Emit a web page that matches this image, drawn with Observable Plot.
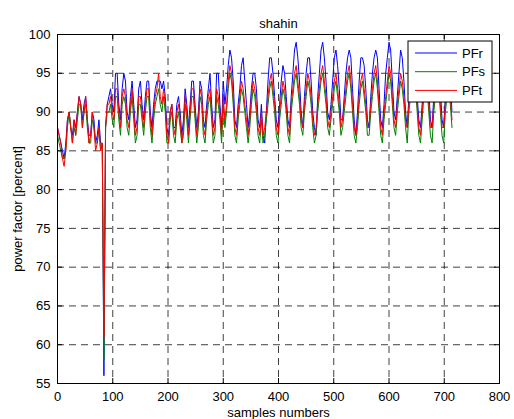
<!DOCTYPE html>
<html><head><meta charset="utf-8">
<script src="https://cdn.jsdelivr.net/npm/d3@7"></script>
<script src="https://cdn.jsdelivr.net/npm/@observablehq/plot@0.6"></script>
<style>body{margin:0;background:#fff;}</style>
</head><body><div id="chart"></div>
<script>
const sampleStep = 3;
const PFr = [
88,87,86,85,84,86,89,90,88,87,
89,88,90,92,91,89,91,92,89,87,
87,90,89,86,87,89,86,86,56,88,
91,92,93,91,90,95,95,91,89,93,
95,94,90,89,92,94,91,88,89,93,
94,91,89,92,94,94,90,88,91,93,
94,94,94,93,94,92,88,87,90,91,
88,88,91,92,90,87,89,93,91,88,
91,94,94,91,88,90,94,93,89,88,
91,93,95,91,88,89,95,95,91,88,
94,91,93,96,98,97,94,89,88,91,
93,96,97,94,91,88,90,93,95,95,
93,89,88,91,87,86,90,94,97,97,
95,92,89,88,91,94,96,95,92,89,
88,92,95,98,99,97,94,90,88,92,
95,97,97,94,90,88,87,92,95,98,
99,97,94,90,89,91,94,97,98,96,
93,89,89,92,95,97,98,97,93,89,
87,90,94,97,97,96,93,89,88,92,
95,97,98,97,93,89,88,91,95,97,
99,98,94,90,89,92,95,98,97,94,
90,88,92,95,97,98,96,92,89,88,
91,95,97,97,93,89,88,92,95,97,
97,93,89,88,92,95,97,94,90];
const PFs = [
87,86,85,84,84,85,88,90,88,86,
88,87,89,91,91,88,90,91,88,86,
86,89,88,86,86,88,85,86,58,88,
90,90,91,89,88,92,92,89,87,91,
92,91,88,87,90,92,89,86,87,91,
91,89,87,90,92,92,88,86,89,91,
92,93,91,90,92,90,86,86,89,90,
87,86,89,90,88,86,87,91,89,86,
89,92,92,89,86,88,92,91,87,86,
89,91,92,89,86,87,92,91,89,86,
91,88,90,93,95,94,91,87,86,89,
91,93,92,90,88,86,88,91,93,92,
90,87,86,89,86,87,89,91,93,94,
92,90,87,86,89,91,93,92,90,87,
86,90,92,94,95,93,91,88,87,90,
92,94,93,91,88,86,87,90,92,94,
95,93,91,88,87,89,91,93,94,92,
90,87,88,90,92,94,95,93,90,87,
86,88,91,93,94,92,90,87,87,90,
92,94,95,93,90,87,86,89,91,93,
95,94,91,88,87,90,92,94,93,91,
88,86,90,92,94,95,93,90,87,86,
89,92,94,93,90,87,86,90,92,94,
93,90,87,86,90,92,94,91,88];
const PFt = [
88,87,86,84,83,85,89,90,88,86,
89,87,90,92,91,88,90,92,89,86,
87,90,88,85,86,88,85,86,61,88,
91,91,92,90,89,93,93,90,88,92,
93,92,89,88,91,93,90,87,88,92,
92,90,88,91,93,93,89,87,90,92,
93,95,92,91,93,91,87,86,90,91,
88,87,90,91,89,86,88,92,90,87,
90,93,93,90,87,89,93,92,88,87,
90,92,93,90,87,88,93,92,90,87,
92,89,91,94,96,95,92,88,87,90,
92,94,93,91,89,87,89,92,94,93,
91,88,87,90,87,88,90,92,94,95,
93,91,88,87,90,92,94,93,91,88,
87,91,93,95,96,94,92,89,88,91,
93,95,94,92,89,87,88,91,93,95,
96,94,92,89,88,90,92,94,95,93,
91,88,89,91,93,95,96,94,91,88,
87,89,92,94,95,93,91,88,88,91,
93,95,96,94,91,88,87,90,92,94,
96,95,92,89,88,91,93,95,94,92,
89,88,91,93,95,96,94,91,88,87,
90,93,95,94,91,88,88,91,93,95,
94,91,88,88,91,93,95,92,89];
const seriesNames = ["PFr", "PFs", "PFt"];
const seriesColors = ["#0000ff", "#008000", "#ff0000"];
const xTicks = [0, 100, 200, 300, 400, 500, 600, 700, 800];
const yTicks = [55, 60, 65, 70, 75, 80, 85, 90, 95, 100];
const titleText = "shahin";
const xLabel = "samples numbers";
const yLabel = "power factor [percent]";

const W = 514, H = 419, mL = 57, mR = 15, mT = 34, mB = 36;
const innerH = H - mT - mB, innerW = W - mL - mR;

const rows = [PFr, PFs, PFt].flatMap((arr, k) =>
  arr.map((v, i) => ({sample: i * sampleStep, value: v, series: seriesNames[k]})));

const plot = Plot.plot({
  width: W, height: H,
  marginLeft: mL, marginRight: mR, marginTop: mT, marginBottom: mB,
  style: {fontFamily: "'Liberation Sans', Arial, sans-serif", fontSize: "13px", color: "#000", background: "#fff"},
  x: {domain: [0, 800]},
  y: {domain: [55, 100]},
  color: {domain: seriesNames, range: seriesColors},
  marks: [
    Plot.gridX(xTicks, {stroke: "#000", strokeOpacity: 0.75, strokeDasharray: "7,5"}),
    Plot.gridY(yTicks, {stroke: "#000", strokeOpacity: 0.75, strokeDasharray: "7,5"}),
    Plot.line(rows, {x: "sample", y: "value", z: "series", stroke: "series", strokeWidth: 1}),
    Plot.ruleX(xTicks, {x: d => d, insetTop: innerH - 5, stroke: "#000"}),
    Plot.ruleX(xTicks, {x: d => d, insetBottom: innerH - 5, stroke: "#000"}),
    Plot.ruleY(yTicks, {y: d => d, insetRight: innerW - 5, stroke: "#000"}),
    Plot.ruleY(yTicks, {y: d => d, insetLeft: innerW - 5, stroke: "#000"}),
    Plot.frame({stroke: "#000", strokeWidth: 1}),
    Plot.axisX(xTicks, {tickSize: 0, tickPadding: 8, label: xLabel, labelAnchor: "center", labelArrow: "none", labelOffset: 33}),
    Plot.axisY(yTicks, {tickSize: 0, tickPadding: 7, label: yLabel, labelAnchor: "center", labelArrow: "none", labelOffset: 45}),
    Plot.text([titleText], {text: d => d, frameAnchor: "top", dy: -16, fill: "#000"})
  ]
});
document.getElementById("chart").appendChild(plot);

// legend box inside the axes (MATLAB style)
const svg = d3.select(plot);
const lg = svg.append("g").attr("text-anchor", "start");
const lx = 408, ly = 41, lw = 84, lh = 61;
lg.append("rect").attr("x", lx).attr("y", ly).attr("width", lw).attr("height", lh)
  .attr("fill", "#fff").attr("stroke", "#000");
seriesNames.forEach((name, k) => {
  const yy = ly + 12 + k * 18.7;
  lg.append("line").attr("x1", lx + 7).attr("x2", lx + 49).attr("y1", yy).attr("y2", yy)
    .attr("stroke", seriesColors[k]).attr("stroke-width", 1);
  lg.append("text").attr("x", lx + 54).attr("y", yy).attr("dy", "0.35em")
    .attr("text-anchor", "start").attr("font-size", 13).attr("fill", "#000").text(name);
});
</script>
</body></html>
